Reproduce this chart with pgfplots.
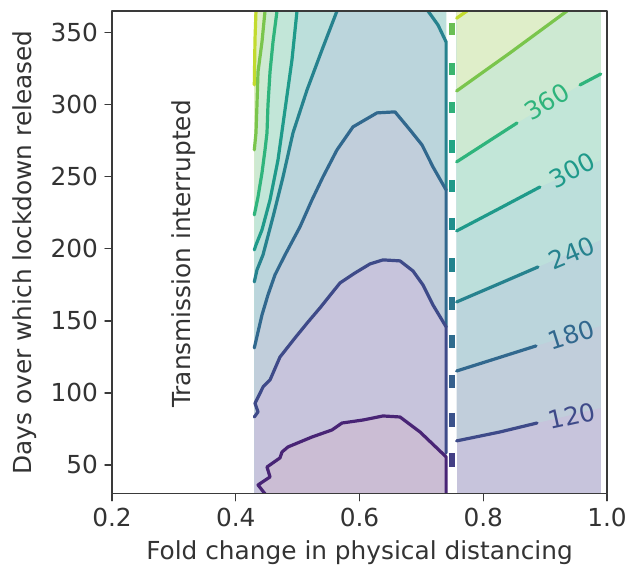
\documentclass[border=0pt]{standalone}
\usepackage{fontspec}
\setmainfont{DejaVu Sans}
\usepackage{pgfplots}
\pgfplotsset{compat=1.18}
\definecolor{txt}{HTML}{333333}
\definecolor{axc}{HTML}{3a3a3a}
\definecolor{l60}{HTML}{482475}
\definecolor{l120}{HTML}{3e4a89}
\definecolor{l180}{HTML}{31688e}
\definecolor{l240}{HTML}{26828e}
\definecolor{l300}{HTML}{1f9a8a}
\definecolor{l360}{HTML}{2fb47c}
\definecolor{l420}{HTML}{7ac54c}
\definecolor{l480}{HTML}{c2db2e}
\definecolor{f0}{HTML}{cbbdd4}
\definecolor{f1}{HTML}{c7c4dc}
\definecolor{f2}{HTML}{c1cedb}
\definecolor{f3}{HTML}{bbd5dc}
\definecolor{f4}{HTML}{bcdfdb}
\definecolor{f5}{HTML}{c2e6d8}
\definecolor{f6}{HTML}{cde9d2}
\definecolor{f7}{HTML}{dfeec9}
\definecolor{f8}{HTML}{ecf3c2}
\newcommand\fs{\fontsize{12.4pt}{14.5pt}\selectfont}
\begin{document}
\begin{tikzpicture}
\begin{axis}[
  at={(0,0)}, anchor=south west,
  scale only axis, width=247.5pt, height=241.4pt,
  xmin=0.2, xmax=1.0, ymin=30, ymax=365,
  xtick={0.2,0.4,0.6,0.8,1.0}, ytick={50,100,150,200,250,300,350},
  tick align=outside, tick pos=left,
  major tick length=3.5pt,
  every tick/.style={line width=0.7pt, color=axc},
  axis line style={line width=0.7pt, color=axc},
  tick label style={font=\fs, color=txt},
  label style={font=\fs, color=txt},
  /pgf/number format/assume math mode=true,
  xticklabel style={/pgf/number format/.cd, fixed, fixed zerofill, precision=1},
  yticklabel style={/pgf/number format/.cd, fixed, precision=0},
  xlabel={Fold change in physical distancing},
  ylabel={Days over which lockdown released},
  axis on top,
  line join=round, line cap=round,
]
% ---------- left region fills ----------
\addplot[fill=f8, draw=none] coordinates {(0.43,30) (0.74,30) (0.74,365) (0.43,365)};
\addplot[fill=f7, draw=none] coordinates {(0.4327,365) (0.4311,344.9) (0.43,313.7) (0.43,30) (0.74,30) (0.74,365)};
\addplot[fill=f6, draw=none] coordinates {(0.4473,365) (0.4424,343.5) (0.4360,322.8) (0.4343,299.8) (0.4327,280.4) (0.43,268.6) (0.43,30) (0.74,30) (0.74,365)};
\addplot[fill=f5, draw=none] coordinates {(0.4667,365) (0.4602,343.5) (0.4554,322.8) (0.4521,299.8) (0.4505,280.4) (0.4473,268.6) (0.4424,252.6) (0.4360,236.0) (0.43,223.5) (0.43,30) (0.74,30) (0.74,365)};
\addplot[fill=f4, draw=none] coordinates {(0.4990,365) (0.4909,331.1) (0.4796,296.4) (0.4683,261.7) (0.4554,233.9) (0.4424,213.1) (0.4327,202.7) (0.43,199.2) (0.43,30) (0.74,30) (0.74,365)};
\addplot[fill=f3, draw=none] coordinates {(0.5636,365) (0.5394,338.0) (0.5152,310.2) (0.4925,280.4) (0.4764,249.9) (0.4602,222.1) (0.4440,195.7) (0.4343,185.3) (0.43,177.0) (0.43,30) (0.74,30) (0.74,343.5) (0.7269,355.3) (0.7107,365)};
\addplot[fill=f2, draw=none] coordinates {(0.43,131.2) (0.4360,142.3) (0.4424,154.1) (0.4521,168.0) (0.4634,181.9) (0.4796,195.7) (0.5038,215.2) (0.5232,233.9) (0.5410,249.9) (0.5636,268.6) (0.5895,284.6) (0.6283,294.3) (0.6574,295.0) (0.6816,282.5) (0.7010,272.1) (0.7188,256.8) (0.74,240.8) (0.74,30) (0.43,30)};
\addplot[fill=f1, draw=none] coordinates {(0.43,83.3) (0.4360,86.8) (0.4311,92.8) (0.4444,104.3) (0.4554,109.0) (0.4715,124.9) (0.4957,138.1) (0.5168,149.2) (0.5362,159.0) (0.5685,176.3) (0.5927,183.2) (0.6170,189.5) (0.6380,192.3) (0.6655,191.6) (0.6865,184.6) (0.7026,174.9) (0.7188,161.0) (0.74,145.8) (0.74,30) (0.43,30)};
\addplot[fill=f0, draw=none] coordinates {(0.4473,30) (0.4360,36.1) (0.4554,41.7) (0.4505,48.6) (0.4715,54.9) (0.4748,59.0) (0.4844,62.5) (0.5232,69.4) (0.5556,74.3) (0.5717,79.1) (0.6057,81.2) (0.6380,84.0) (0.6655,83.3) (0.6978,72.9) (0.74,55.6) (0.74,30)};
% ---------- right region fills ----------
\addplot[fill=f1, draw=none] coordinates {(0.757,30) (0.99,30) (0.99,365) (0.757,365)};
\addplot[fill=f2, draw=none] coordinates {(0.757,66.7) (0.8271,72.9) (0.8869,79.1) (0.99,89.6) (0.99,365) (0.757,365)};
\addplot[fill=f3, draw=none] coordinates {(0.757,115.2) (0.8271,124.7) (0.8853,132.6) (0.99,146.5) (0.99,365) (0.757,365)};
\addplot[fill=f4, draw=none] coordinates {(0.757,163.1) (0.8271,176.0) (0.8885,187.4) (0.99,206.1) (0.99,365) (0.757,365)};
\addplot[fill=f5, draw=none] coordinates {(0.757,212.4) (0.8271,228.2) (0.8917,242.9) (0.99,261.7) (0.99,365) (0.757,365)};
\addplot[fill=f6, draw=none] coordinates {(0.757,260.3) (0.8546,287.3) (0.9564,313.7) (0.99,321.3) (0.99,365) (0.757,365)};
\addplot[fill=f7, draw=none] coordinates {(0.757,309.5) (0.8432,335.9) (0.9354,365) (0.757,365)};
\addplot[fill=f8, draw=none] coordinates {(0.757,360) (0.7738,365) (0.757,365)};
% ---------- left region contour lines ----------
\addplot[l480, line width=1.6pt] coordinates {(0.4327,365) (0.4311,344.9) (0.43,313.7)};
\addplot[l420, line width=1.6pt] coordinates {(0.4473,365) (0.4424,343.5) (0.4360,322.8) (0.4343,299.8) (0.4327,280.4) (0.43,268.6)};
\addplot[l360, line width=1.6pt] coordinates {(0.4667,365) (0.4602,343.5) (0.4554,322.8) (0.4521,299.8) (0.4505,280.4) (0.4473,268.6) (0.4424,252.6) (0.4360,236.0) (0.43,223.5)};
\addplot[l300, line width=1.6pt] coordinates {(0.4990,365) (0.4909,331.1) (0.4796,296.4) (0.4683,261.7) (0.4554,233.9) (0.4424,213.1) (0.4327,202.7) (0.43,199.2)};
\addplot[l240, line width=1.6pt] coordinates {(0.5636,365) (0.5394,338.0) (0.5152,310.2) (0.4925,280.4) (0.4764,249.9) (0.4602,222.1) (0.4440,195.7) (0.4343,185.3) (0.43,177.0)};
\addplot[l240, line width=1.6pt] coordinates {(0.7107,365) (0.7269,355.3) (0.74,343.5) (0.74,240.8)};
\addplot[l180, line width=1.6pt] coordinates {(0.43,131.2) (0.4360,142.3) (0.4424,154.1) (0.4521,168.0) (0.4634,181.9) (0.4796,195.7) (0.5038,215.2) (0.5232,233.9) (0.5410,249.9) (0.5636,268.6) (0.5895,284.6) (0.6283,294.3) (0.6574,295.0) (0.6816,282.5) (0.7010,272.1) (0.7188,256.8) (0.74,240.8) (0.74,145.8)};
\addplot[l120, line width=1.6pt] coordinates {(0.43,83.3) (0.4360,86.8) (0.4311,92.8) (0.4444,104.3) (0.4554,109.0) (0.4715,124.9) (0.4957,138.1) (0.5168,149.2) (0.5362,159.0) (0.5685,176.3) (0.5927,183.2) (0.6170,189.5) (0.6380,192.3) (0.6655,191.6) (0.6865,184.6) (0.7026,174.9) (0.7188,161.0) (0.74,145.8) (0.74,58.3)};
\addplot[l60, line width=1.6pt] coordinates {(0.4473,30) (0.4360,36.1) (0.4554,41.7) (0.4505,48.6) (0.4715,54.9) (0.4748,59.0) (0.4844,62.5) (0.5232,69.4) (0.5556,74.3) (0.5717,79.1) (0.6057,81.2) (0.6380,84.0) (0.6655,83.3) (0.6978,72.9) (0.74,55.6) (0.74,30)};
% ---------- right region contour lines ----------
\addplot[l120, line width=1.6pt] coordinates {(0.757,66.7) (0.8271,72.9) (0.8869,79.1)};
\addplot[l180, line width=1.6pt] coordinates {(0.757,115.2) (0.8271,124.7) (0.8853,132.6)};
\addplot[l240, line width=1.6pt] coordinates {(0.757,163.1) (0.8271,176.0) (0.8885,187.4)};
\addplot[l300, line width=1.6pt] coordinates {(0.757,212.4) (0.8271,228.2) (0.8917,242.9)};
\addplot[l360, line width=1.6pt] coordinates {(0.757,260.3) (0.8546,287.3)};
\addplot[l360, line width=1.6pt] coordinates {(0.9564,313.7) (0.99,321.3)};
\addplot[l420, line width=1.6pt] coordinates {(0.757,309.5) (0.8432,335.9) (0.9354,365)};
\addplot[l480, line width=1.6pt] coordinates {(0.757,360) (0.7738,365)};
% ---------- dashed separator (coloured gaps between white dashes) ----------
\addplot[color={rgb,255:red,106;green,191;blue,85}, line width=3pt, line cap=butt] coordinates {(0.7487,356.7) (0.7487,348.4)};
\addplot[color={rgb,255:red,59;green,181;blue,111}, line width=3pt, line cap=butt] coordinates {(0.7487,329.0) (0.7487,320.6)};
\addplot[color={rgb,255:red,47;green,176;blue,122}, line width=3pt, line cap=butt] coordinates {(0.7487,301.9) (0.7487,294.3)};
\addplot[color={rgb,255:red,34;green,165;blue,133}, line width=3pt, line cap=butt] coordinates {(0.7487,275.5) (0.7487,266.5)};
\addplot[color={rgb,255:red,31;green,154;blue,138}, line width=3pt, line cap=butt] coordinates {(0.7487,247.8) (0.7487,239.5)};
\addplot[color={rgb,255:red,31;green,143;blue,141}, line width=3pt, line cap=butt] coordinates {(0.7487,221.4) (0.7487,213.1)};
\addplot[color={rgb,255:red,35;green,131;blue,142}, line width=3pt, line cap=butt] coordinates {(0.7487,193.6) (0.7487,183.9)};
\addplot[color={rgb,255:red,42;green,118;blue,142}, line width=3pt, line cap=butt] coordinates {(0.7487,166.6) (0.7487,157.6)};
\addplot[color={rgb,255:red,47;green,108;blue,142}, line width=3pt, line cap=butt] coordinates {(0.7487,140.2) (0.7487,131.2)};
\addplot[color={rgb,255:red,54;green,96;blue,141}, line width=3pt, line cap=butt] coordinates {(0.7487,112.5) (0.7487,103.4)};
\addplot[color={rgb,255:red,59;green,82;blue,139}, line width=3pt, line cap=butt] coordinates {(0.7487,86.1) (0.7487,76.4)};
\addplot[color={rgb,255:red,67;green,62;blue,133}, line width=3pt, line cap=butt] coordinates {(0.7487,58.3) (0.7487,48.6)};
% ---------- labels ----------
\node[font=\fs, color=l360, rotate=31] at (axis cs:0.903,301.9) {360};
\node[font=\fs, color=l300, rotate=28] at (axis cs:0.9434,254.7) {300};
\node[font=\fs, color=l240, rotate=23] at (axis cs:0.9434,197.1) {240};
\node[font=\fs, color=l180, rotate=17.5] at (axis cs:0.9418,140.2) {180};
\node[font=\fs, color=l120, rotate=12.5] at (axis cs:0.9434,84.0) {120};
\node[font=\fs, color=txt, rotate=90] at (axis cs:0.3164,196.4) {Transmission interrupted};
\end{axis}
\pgfresetboundingbox
\path[use as bounding box] (-56pt,-39.1pt) rectangle (258.5pt,246.9pt);
\end{tikzpicture}
\end{document}
